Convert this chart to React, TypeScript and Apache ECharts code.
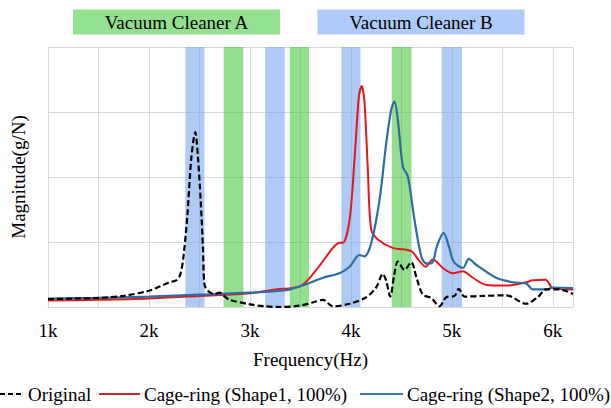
import React, { useEffect, useRef } from "react";
import * as echarts from "echarts";

// Frequency response, [frequency (Hz), magnitude]
const originalData: [number, number][] = [
  [1000, 0.12], [1250, 0.13], [1500, 0.14], [1750, 0.17], [2000, 0.25], [2100, 0.31],
  [2200, 0.38], [2270, 0.41], [2310, 0.5], [2340, 0.75], [2380, 1.4], [2420, 2.3],
  [2459, 2.69], [2485, 2.3], [2512, 1.65], [2535, 0.9], [2551, 0.34], [2590, 0.24],
  [2650, 0.2], [2700, 0.22], [2750, 0.16], [2800, 0.11], [3000, 0.04], [3150, 0.01],
  [3290, 0.0], [3490, 0.02], [3620, 0.07], [3723, 0.11], [3822, 0.01], [3987, 0.05],
  [4152, 0.15], [4250, 0.3], [4317, 0.51], [4350, 0.4], [4390, 0.16], [4430, 0.5],
  [4465, 0.7], [4532, 0.57], [4598, 0.69], [4650, 0.45], [4713, 0.19], [4796, 0.14],
  [4878, 0.01], [4944, 0.15], [5026, 0.17], [5069, 0.28], [5125, 0.16], [5307, 0.17],
  [5538, 0.18], [5737, 0.05], [5850, 0.15], [5935, 0.27], [6066, 0.27], [6200, 0.2],
];

const shape1Data: [number, number][] = [
  [1000, 0.1], [1500, 0.11], [2000, 0.13], [2500, 0.17], [3000, 0.21], [3250, 0.27],
  [3500, 0.32], [3657, 0.57], [3822, 0.91], [3888, 0.99], [3921, 0.99], [3987, 1.34],
  [4036, 2.27], [4079, 3.24], [4106, 3.4], [4135, 3.14], [4168, 2.11], [4201, 1.19],
  [4267, 1.04], [4415, 0.91], [4598, 0.86], [4663, 0.74], [4740, 0.62], [4812, 0.73],
  [4911, 0.6], [5010, 0.52], [5109, 0.55], [5208, 0.45], [5340, 0.34], [5538, 0.33],
  [5737, 0.38], [5802, 0.41], [5928, 0.42], [6000, 0.29], [6200, 0.27],
];

const shape2Data: [number, number][] = [
  [1000, 0.13], [1500, 0.14], [2000, 0.16], [2500, 0.19], [3000, 0.22], [3360, 0.26],
  [3495, 0.32], [3591, 0.37], [3723, 0.45], [3888, 0.52], [3987, 0.62], [4086, 0.8],
  [4135, 0.78], [4201, 0.98], [4284, 1.65], [4350, 2.52], [4400, 3.04], [4432, 3.16],
  [4465, 2.88], [4515, 2.16], [4564, 2.01], [4630, 1.34], [4697, 0.78], [4746, 0.67],
  [4805, 0.68], [4851, 0.93], [4918, 1.14], [4971, 0.93], [5017, 0.7], [5109, 0.6],
  [5168, 0.74], [5241, 0.65], [5439, 0.45], [5604, 0.38], [5737, 0.36], [5802, 0.27],
  [5935, 0.27], [6000, 0.3], [6200, 0.29],
];

// Frequency bands of the two vacuum cleaners, [from, to] in Hz
const bandsA: [number, number][] = [[2740, 2935], [3395, 3585], [4405, 4600]];
const bandsB: [number, number][] = [[2360, 2550], [3150, 3345], [3905, 4095], [4900, 5100]];

const xTickLabels: Record<number, string> = {
  1000: "1k", 2000: "2k", 3000: "3k", 4000: "4k", 5000: "5k", 6000: "6k",
};

const seriesNames = ["Original", "Cage-ring (Shape1, 100%)", "Cage-ring (Shape2, 100%)"];
const bandNames = ["Vacuum Cleaner A", "Vacuum Cleaner B"];

const FONT = "'Liberation Serif', 'Times New Roman', serif";
const GRID = "#d9d9d9";
const RED = "#e8171e";
const BLUE = "#2d6da4";
const BAND_A = "rgba(70, 200, 60, 0.58)";
const BAND_B = "rgba(120, 168, 240, 0.6)";

export default function App() {
  const ref = useRef<HTMLDivElement>(null);

  useEffect(() => {
    if (!ref.current) return;
    const chart = echarts.init(ref.current, undefined, { renderer: "svg" });

    const bandArea = (bands: [number, number][], color: string) =>
      bands.map(([a, b]) => [{ xAxis: a, itemStyle: { color } }, { xAxis: b }]);

    const legendY = 394;
    const legendText = (x: number, text: string) => ({
      type: "text",
      x,
      y: legendY,
      style: { text, font: `19px ${FONT}`, fill: "#000", verticalAlign: "middle", align: "left" },
    });
    const legendLine = (x1: number, x2: number, stroke: string, dash?: number[]) => ({
      type: "line",
      shape: { x1, y1: legendY, x2, y2: legendY },
      style: { stroke, lineWidth: 2, lineDash: dash },
    });
    const headerBox = (x: number, w: number, fill: string, text: string) => ({
      type: "group",
      children: [
        { type: "rect", shape: { x, y: 9.5, width: w, height: 25 }, style: { fill } },
        {
          type: "text",
          x: x + w / 2,
          y: 22.5,
          style: { text, font: `19px ${FONT}`, fill: "#000", align: "center", verticalAlign: "middle" },
        },
      ],
    });

    chart.setOption({
      animation: false,
      grid: { left: 48, right: 38, top: 47, bottom: 101 },
      xAxis: {
        type: "value",
        min: 1000,
        max: 6200,
        interval: 500,
        axisLine: { show: true, lineStyle: { color: GRID, width: 1 } },
        axisTick: { show: false },
        splitLine: { show: true, lineStyle: { color: GRID, width: 1 } },
        axisLabel: {
          formatter: (v: number) => xTickLabels[v] ?? "",
          fontSize: 19,
          fontFamily: FONT,
          color: "#000",
          margin: 14,
          showMaxLabel: false,
        },
        name: "Frequency(Hz)",
        nameLocation: "middle",
        nameGap: 43,
        nameTextStyle: { fontSize: 19, fontFamily: FONT, color: "#000" },
      },
      yAxis: {
        type: "value",
        min: 0,
        max: 4,
        interval: 1,
        axisLine: { show: false },
        axisTick: { show: false },
        axisLabel: { show: false },
        splitLine: { show: true, lineStyle: { color: GRID, width: 1 } },
        name: "Magnitude(g/N)",
        nameLocation: "middle",
        nameGap: 20,
        nameTextStyle: { fontSize: 19, fontFamily: FONT, color: "#000" },
      },
      series: [
        {
          name: seriesNames[0],
          type: "line",
          data: originalData,
          symbol: "none",
          smooth: 0.3,
          z: 3,
          lineStyle: { color: "#000", width: 2.2, type: [6, 3] },
        },
        {
          name: seriesNames[1],
          type: "line",
          data: shape1Data,
          symbol: "none",
          smooth: 0.3,
          z: 2,
          lineStyle: { color: RED, width: 2 },
        },
        {
          name: seriesNames[2],
          type: "line",
          data: shape2Data,
          symbol: "none",
          smooth: 0.3,
          z: 2,
          lineStyle: { color: BLUE, width: 2.2 },
        },
        {
          // translucent frequency bands, drawn over the curves
          name: "bands",
          type: "line",
          data: [],
          z: 10,
          silent: true,
          markArea: {
            silent: true,
            data: [...bandArea(bandsA, BAND_A), ...bandArea(bandsB, BAND_B)],
          },
        },
      ],
      graphic: [
        headerBox(73, 207, "#93e08e", bandNames[0]),
        headerBox(317.5, 207, "#aecbfa", bandNames[1]),
        legendLine(0, 23, "#000", [5, 3]),
        legendText(28, seriesNames[0]),
        legendLine(99, 140, "#c8282d"),
        legendText(144, seriesNames[1]),
        legendLine(360, 403, "#3a76aa"),
        legendText(407, seriesNames[2]),
      ],
    });

    return () => chart.dispose();
  }, []);

  return (
    <div
      ref={ref}
      style={{ position: "absolute", left: 0, top: 0, width: 611, height: 408, background: "#fff" }}
    />
  );
}
